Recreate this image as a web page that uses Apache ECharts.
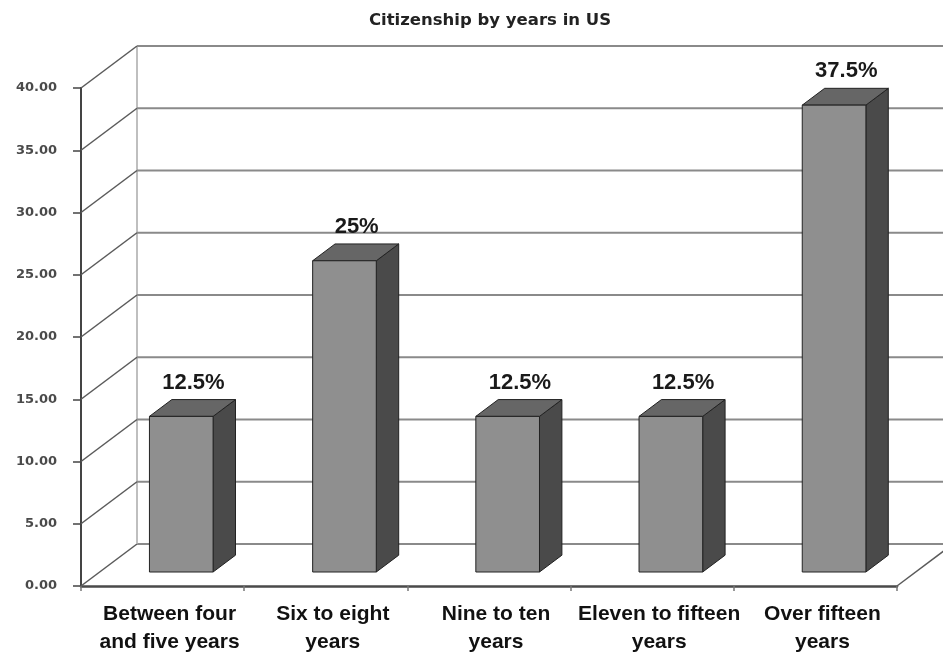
<!DOCTYPE html>
<html>
<head>
<meta charset="utf-8">
<script src="https://cdn.jsdelivr.net/npm/echarts@6/dist/echarts.min.js"></script>
<style>
  html, body { margin: 0; padding: 0; background: #fff; }
  #chart { width: 943px; height: 656px; }
</style>
</head>
<body>
<div id="chart"></div>
<script>
// Categories, values and axis ticks
const categories = [
  'Between four\nand five years',
  'Six to eight\nyears',
  'Nine to ten\nyears',
  'Eleven to fifteen\nyears',
  'Over fifteen\nyears'
];
const shares = [12.5, 25, 12.5, 12.5, 37.5];
const yTicks = [0, 5, 10, 15, 20, 25, 30, 35, 40];

// Perspective of the 3D box (pixel offset from front plane to back wall)
const WALL_DX = 56;
const WALL_DY = -42;
// Bars sit one third of the way into the box and take 40% of its depth
const BAR_POS = 1 / 3;
const BAR_DEPTH = 0.4;
const BAR_RATIO = 0.39;

const chart = echarts.init(document.getElementById('chart'), null, { renderer: 'canvas' });

function renderWall(params, api) {
  const rect = params.coordSys;
  const t = api.value(1);
  const y = api.coord([0, t])[1];
  const x0 = rect.x, x1 = rect.x + rect.width;
  const children = [];
  // diagonal on the left side wall
  children.push({
    type: 'line',
    shape: { x1: x0, y1: y, x2: x0 + WALL_DX, y2: y + WALL_DY },
    style: { stroke: '#5a5a5a', lineWidth: 1.5 }
  });
  // horizontal gridline on the back wall
  children.push({
    type: 'line',
    shape: { x1: x0 + WALL_DX, y1: y + WALL_DY, x2: x1 + WALL_DX, y2: y + WALL_DY },
    style: { stroke: '#8a8a8a', lineWidth: 2 }
  });
  if (params.dataIndex === 0) {
    const yTop = api.coord([0, yTicks[yTicks.length - 1]])[1];
    // back corner edge
    children.push({
      type: 'line',
      shape: { x1: x0 + WALL_DX, y1: y + WALL_DY, x2: x0 + WALL_DX, y2: yTop + WALL_DY },
      style: { stroke: '#aaa', lineWidth: 1.5 }
    });
    // right edge of the floor
    children.push({
      type: 'line',
      shape: { x1: x1, y1: y, x2: x1 + WALL_DX, y2: y + WALL_DY },
      style: { stroke: '#5a5a5a', lineWidth: 1.5 }
    });
  }
  return { type: 'group', children: children };
}

function renderBar(params, api) {
  const i = api.value(0);
  const v = api.value(1);
  const base = api.coord([i, 0]);
  const top = api.coord([i, v]);
  const catW = api.size([1, 0])[0];
  const w = catW * BAR_RATIO;
  const ox = WALL_DX * BAR_POS, oy = WALL_DY * BAR_POS;
  const dx = WALL_DX * BAR_DEPTH, dy = WALL_DY * BAR_DEPTH;
  const xl = base[0] - w / 2 + ox;
  const xr = xl + w;
  const yb = base[1] + oy;
  const yt = top[1] + oy;
  const edge = { stroke: '#222', lineWidth: 1, lineJoin: 'round' };
  return {
    type: 'group',
    children: [
      {
        type: 'polygon',
        shape: { points: [[xr, yt], [xr + dx, yt + dy], [xr + dx, yb + dy], [xr, yb]] },
        style: Object.assign({ fill: '#4a4a4a' }, edge)
      },
      {
        type: 'polygon',
        shape: { points: [[xl, yt], [xl + dx, yt + dy], [xr + dx, yt + dy], [xr, yt]] },
        style: Object.assign({ fill: '#666666' }, edge)
      },
      {
        type: 'rect',
        shape: { x: xl, y: yt, width: w, height: yb - yt },
        style: Object.assign({ fill: '#8f8f8f' }, edge)
      },
      {
        type: 'text',
        x: xl + w / 2 + dx / 2 + 1,
        y: yt + dy - 6,
        style: {
          text: v + '%',
          fill: '#1a1a1a',
          font: 'bold 22px "Liberation Sans", Arial, sans-serif',
          textAlign: 'center',
          textVerticalAlign: 'bottom'
        }
      }
    ]
  };
}

const option = {
  backgroundColor: '#ffffff',
  animation: false,
  title: {
    text: 'Citizenship by years in US',
    left: 485,
    textAlign: 'center',
    top: 7,
    textStyle: {
      fontFamily: '"DejaVu Sans", sans-serif',
      fontWeight: 'bold',
      fontSize: 16.5,
      color: '#222'
    }
  },
  grid: { left: 81, right: 46, top: 88, bottom: 70, containLabel: false },
  xAxis: {
    type: 'category',
    data: categories,
    axisLine: { lineStyle: { color: '#4a4a4a', width: 2.5 } },
    axisTick: { show: true, length: 5, lineStyle: { color: '#777', width: 1.5 } },
    axisLabel: {
      interval: 0,
      margin: 14,
      padding: [0, 0, 0, 14],
      color: '#111',
      fontFamily: '"Liberation Sans", Arial, sans-serif',
      fontWeight: 'bold',
      fontSize: 21,
      lineHeight: 28
    },
    splitLine: { show: false }
  },
  yAxis: {
    type: 'value',
    min: 0,
    max: 40,
    interval: 5,
    axisLine: { show: true, lineStyle: { color: '#444', width: 2 } },
    axisTick: { show: true, length: 8, lineStyle: { color: '#444', width: 1.5 } },
    axisLabel: {
      margin: 24,
      color: '#4a4a4a',
      fontFamily: '"DejaVu Sans", sans-serif',
      fontWeight: 'bold',
      fontSize: 13,
      formatter: function (v) { return v.toFixed(2); }
    },
    splitLine: { show: false }
  },
  series: [
    {
      type: 'custom',
      name: 'wall',
      z: 1,
      silent: true,
      renderItem: renderWall,
      encode: { x: 0, y: 1 },
      data: yTicks.map(function (t) { return [0, t]; })
    },
    {
      type: 'custom',
      name: 'Citizenship',
      z: 3,
      renderItem: renderBar,
      encode: { x: 0, y: 1 },
      data: shares.map(function (v, i) { return [i, v]; })
    }
  ]
};

chart.setOption(option);
</script>
</body>
</html>
